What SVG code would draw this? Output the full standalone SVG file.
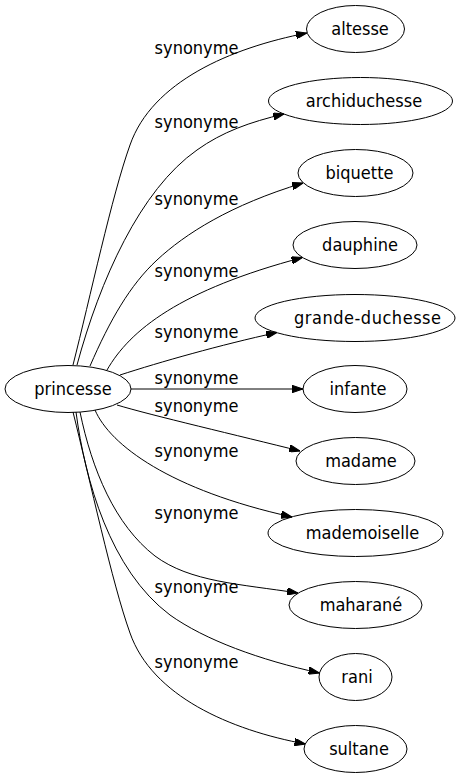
<svg xmlns="http://www.w3.org/2000/svg" width="462" height="779" viewBox="0 0 462 779">
<defs>
<style>
.n ellipse{fill:none;stroke:#000;stroke-width:1}
text{font-family:"DejaVu Sans Condensed","DejaVu Sans",sans-serif;font-stretch:condensed;font-size:18px;fill:#000;text-anchor:middle}
.e path{fill:none;stroke:#000;stroke-width:1;marker-end:url(#ah)}
</style>
<marker id="ah" markerUnits="userSpaceOnUse" viewBox="0 0 11 7.5" markerWidth="11" markerHeight="7.5" refX="11" refY="3.75" orient="auto">
<path d="M0,0 L11,3.75 L0,7.5 z" fill="#000" stroke="#000" stroke-width="1"/>
</marker>
</defs>
<rect width="462" height="779" fill="#fff"/>
<g id="edges" class="e">
<path d="M73,365 C90,298 112,195 130,145 C152,82 230,48 307,33"/>
<path d="M77,365 C100,280 140,190 197,150 C222,132 250,122 284,114"/>
<path d="M90,366 C110,320 130,285 157,260 C185,234 230,205 303,183"/>
<path d="M107,370 C130,330 180,290 302.5,257.5"/>
<path d="M120,375 C160,362 220,345 277,332.5"/>
<path d="M131,389 L303,389"/>
<path d="M117,405 C150,415 240,436 300,451"/>
<path d="M95,410 C110,445 170,490 292,517"/>
<path d="M80,412 C92,470 115,525 155,556 C190,582 240,584 298,593"/>
<path d="M76,412 C85,480 110,570 170,615 C205,640 260,660 319.5,673"/>
<path d="M73,412 C90,480 112,583 130,633 C152,696 230,730 305.5,744"/>
</g>
<g id="labels">
<text x="196.5" y="54">synonyme</text>
<text x="196.5" y="128">synonyme</text>
<text x="196.5" y="205">synonyme</text>
<text x="196.5" y="277">synonyme</text>
<text x="196.5" y="338">synonyme</text>
<text x="196.5" y="384">synonyme</text>
<text x="196.5" y="412">synonyme</text>
<text x="196.5" y="457">synonyme</text>
<text x="196.5" y="519">synonyme</text>
<text x="196.5" y="593">synonyme</text>
<text x="196.5" y="668">synonyme</text>
</g>
<g id="princesse" class="n"><ellipse cx="68" cy="389" rx="63" ry="23.5"/><text x="73" y="395">princesse</text></g>
<g id="altesse" class="n"><ellipse cx="355.5" cy="29" rx="49" ry="23.5"/><text x="360" y="35">altesse</text></g>
<g id="archiduchesse" class="n"><ellipse cx="360.5" cy="101" rx="92" ry="23.5"/><text x="364" y="107">archiduchesse</text></g>
<g id="biquette" class="n"><ellipse cx="355.5" cy="173" rx="57.5" ry="23.5"/><text x="359.5" y="179">biquette</text></g>
<g id="dauphine" class="n"><ellipse cx="355" cy="245" rx="62" ry="23.5"/><text x="360" y="251">dauphine</text></g>
<g id="grande-duchesse" class="n"><ellipse cx="355" cy="318" rx="100" ry="23.5"/><text x="367.5" y="324" textLength="147" lengthAdjust="spacing">grande-duchesse</text></g>
<g id="infante" class="n"><ellipse cx="355" cy="389" rx="52" ry="23.5"/><text x="358" y="395">infante</text></g>
<g id="madame" class="n"><ellipse cx="355.5" cy="461" rx="59.5" ry="23.5"/><text x="361" y="467">madame</text></g>
<g id="mademoiselle" class="n"><ellipse cx="355.5" cy="533" rx="87.5" ry="23.5"/><text x="362.5" y="539">mademoiselle</text></g>
<g id="maharane" class="n"><ellipse cx="355.5" cy="605" rx="66.5" ry="23.5"/><text x="361" y="611">maharané</text></g>
<g id="rani" class="n"><ellipse cx="355.5" cy="677" rx="36.5" ry="23.5"/><text x="357" y="683">rani</text></g>
<g id="sultane" class="n"><ellipse cx="355.5" cy="749" rx="51.5" ry="23.5"/><text x="359" y="755">sultane</text></g>
</svg>
